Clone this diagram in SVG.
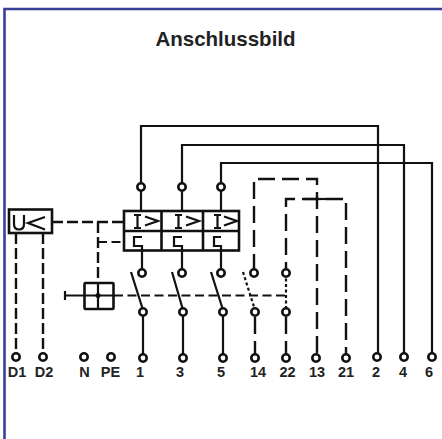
<svg xmlns="http://www.w3.org/2000/svg" width="442" height="439" viewBox="0 0 442 439">
<style>
.s{fill:none;stroke:#111;stroke-width:2.2}
.b{fill:none;stroke:#111;stroke-width:2.6}
.d{fill:none;stroke:#111;stroke-width:2.4;stroke-dasharray:17 7}
.e{fill:none;stroke:#111;stroke-width:2.4;stroke-dasharray:11 4}
.m{fill:none;stroke:#111;stroke-width:2.2;stroke-dasharray:9 4.5}
.t{fill:none;stroke:#111;stroke-width:2.2;stroke-dasharray:3 2.5}
.o{fill:#fff;stroke:#111;stroke-width:2.6}
text{font-family:"Liberation Sans",Arial,sans-serif;font-weight:700;fill:#222}
.l{font-size:14.5px;text-anchor:middle}
</style>
<rect width="442" height="439" fill="#fff"/>
<path d="M4.5 439V9H442" fill="none" stroke="#3a3f9a" stroke-width="2.6"/>
<text x="225.5" y="46" font-size="20.5" text-anchor="middle">Anschlussbild</text>
<g id="connectors">
<path class="s" d="M141 187V126H378V357"/>
<path class="s" d="M182 187V145H404V357"/>
<path class="s" d="M221 187V163H432V357"/>
<path class="s" d="M141 187V211M182 187V211M221 187V211"/>
<path class="s" d="M143 312V358M183 312V358M223 312V358"/>
<path class="s" d="M131 272L143 310M172 272L183 310M211 272L223 310"/>
<path class="e" d="M52 222H123"/>
<path class="e" d="M98 222V283"/>
<path class="m" d="M98 242H123"/>
<path class="e" d="M16 233V356"/>
<path class="e" d="M43 233V356"/>
<path class="d" d="M254 273V179H317V358" stroke-dashoffset="-2"/>
<path class="d" d="M286 273V199H346V358" stroke-dashoffset="6"/>
<path class="s" d="M304 199H326"/>
<path class="d" d="M286 358V312" stroke-dasharray="19 3 16 4"/>
<path class="d" d="M255 358V312" stroke-dasharray="10 5 15 6"/>
<path class="m" d="M114 295.500H286"/>
<path class="t" d="M243 272L255 310"/>
<path class="t" d="M286 273V312"/>
<path class="s" d="M65 291V300M65 295.500H84"/>
</g>
<g id="release-block">
<rect class="b" x="124" y="211" width="115" height="39.500"/>
<path class="b" d="M124 231H239M161.500 211V250M203 211V250"/>
<path class="s" d="M134 215H141M137.500 215V228M134 228H141M145 216.500L158 221L145 225.500" stroke-width="1.800"/>
<path class="s" d="M175 215H182M178.500 215V228M175 228H182M186 216.500L199 221L186 225.500" stroke-width="1.800"/>
<path class="s" d="M214 215H221M217.500 215V228M214 228H221M224 216.500L237 221L224 225.500" stroke-width="1.800"/>
<path class="s" d="M142 237H134V246H142V273"/>
<path class="s" d="M182 237H174V246H182V273"/>
<path class="s" d="M221 237H214V246H221V273"/>
</g>
<g id="undervoltage">
<rect class="b" x="9" y="209.500" width="43" height="23.500"/>
<path class="s" d="M14 215V224Q14 229.500 19 229.500Q24 229.500 24 224V215M45 217L28 223L45 229.500"/>
</g>
<g id="handle">
<rect class="b" x="84.500" y="283" width="29" height="26" rx="1"/>
<path class="s" d="M98 283V309M84 295.500H114"/>
<circle cx="98" cy="295.500" r="2.500" fill="#111"/>
</g>
<g id="terminals">
<circle class="o" cx="141" cy="187" r="3.700"/><circle class="o" cx="182" cy="187" r="3.700"/><circle class="o" cx="221" cy="187" r="3.700"/>
<circle class="o" cx="142" cy="273" r="3.700"/><circle class="o" cx="182" cy="273" r="3.700"/><circle class="o" cx="221" cy="273" r="3.700"/><circle class="o" cx="254" cy="273" r="3.700"/><circle class="o" cx="286" cy="273" r="3.700"/>
<circle class="o" cx="143" cy="312" r="3.700"/><circle class="o" cx="183" cy="312" r="3.700"/><circle class="o" cx="223" cy="312" r="3.700"/><circle class="o" cx="255" cy="312" r="3.700"/><circle class="o" cx="286" cy="312" r="3.700"/>
<circle class="o" cx="16" cy="357" r="3.700"/><circle class="o" cx="43" cy="357" r="3.700"/><circle class="o" cx="84" cy="357" r="3.700"/><circle class="o" cx="111" cy="357" r="3.700"/><circle class="o" cx="143" cy="358" r="3.700"/><circle class="o" cx="183" cy="358" r="3.700"/><circle class="o" cx="223" cy="358" r="3.700"/><circle class="o" cx="255" cy="358" r="3.700"/><circle class="o" cx="286" cy="358" r="3.700"/><circle class="o" cx="316" cy="358" r="3.700"/><circle class="o" cx="346" cy="358" r="3.700"/><circle class="o" cx="377" cy="357" r="3.700"/><circle class="o" cx="404" cy="357" r="3.700"/><circle class="o" cx="432" cy="357" r="3.700"/>
</g>
<g id="labels">
<text class="l" x="17" y="376.500">D1</text><text class="l" x="44" y="376.500">D2</text><text class="l" x="84.500" y="376.500">N</text><text class="l" x="110.500" y="376.500">PE</text><text class="l" x="140" y="376.500">1</text><text class="l" x="180" y="376.500">3</text><text class="l" x="221" y="376.500">5</text><text class="l" x="258" y="376.500">14</text><text class="l" x="287.500" y="376.500">22</text><text class="l" x="317" y="376.500">13</text><text class="l" x="346" y="376.500">21</text><text class="l" x="376" y="376.500">2</text><text class="l" x="403" y="376.500">4</text><text class="l" x="429" y="376.500">6</text>
</g>
</svg>
